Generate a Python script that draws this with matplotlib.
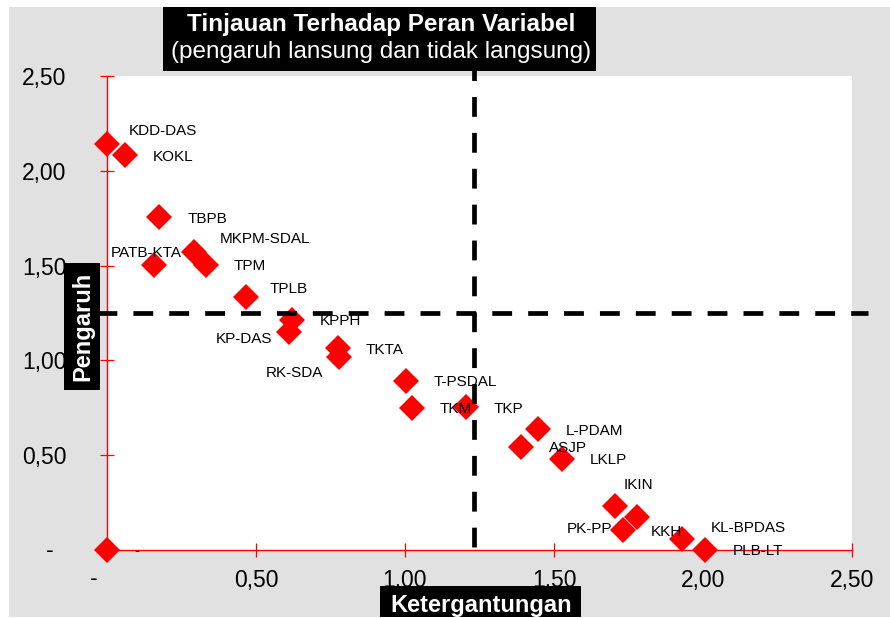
import matplotlib.pyplot as plt
from matplotlib.patches import Rectangle

plt.rcParams['font.family'] = ['Liberation Sans', 'DejaVu Sans']

# variabel: (ketergantungan, pengaruh)
names = ["KDD-DAS", "KOKL", "TBPB", "PATB-KTA", "MKPM-SDAL", "TPM", "TPLB",
         "KPPH", "KP-DAS", "TKTA", "RK-SDA", "T-PSDAL", "TKM", "TKP",
         "L-PDAM", "ASJP", "LKLP", "IKIN", "PK-PP", "KKH", "KL-BPDAS",
         "PLB-LT", "-"]
ketergantungan = [0.000, 0.060, 0.176, 0.157, 0.292, 0.331, 0.465,
                  0.620, 0.612, 0.774, 0.779, 1.004, 1.024, 1.204,
                  1.447, 1.390, 1.526, 1.705, 1.778, 1.733, 1.929,
                  2.007, 0.000]
pengaruh = [2.140, 2.082, 1.755, 1.502, 1.570, 1.503, 1.333,
            1.213, 1.148, 1.064, 1.020, 0.893, 0.751, 0.753,
            0.637, 0.545, 0.480, 0.232, 0.176, 0.105, 0.056,
            0.000, 0.000]

ticks = [0, 0.5, 1.0, 1.5, 2.0, 2.5]
tick_labels = ["-", "0,50", "1,00", "1,50", "2,00", "2,50"]

batas_x = 1.23   # garis putus-putus vertikal
batas_y = 1.25   # garis putus-putus horizontal

title1 = "Tinjauan Terhadap Peran Variabel"
title2 = "(pengaruh lansung dan tidak langsung)"
xlabel = "Ketergantungan"
ylabel = "Pengaruh"

# posisi label yang digeser manual (dx, dy dalam pt, ha)
default_off = (20, 0, 'left')
label_off = {
    "KDD-DAS": (15.8, 10.8, 'left'),
    "PATB-KTA": (20.2, 10.1, 'right'),
    "MKPM-SDAL": (18.7, 10.8, 'left'),
    "TPLB": (17.3, 7.2, 'left'),
    "KP-DAS": (-12, -3.6, 'right'),
    "RK-SDA": (-11.3, -10.8, 'right'),
    "IKIN": (6, 16.3, 'left'),
    "PK-PP": (-18, -7.9, 'right'),
    "KL-BPDAS": (20.9, 9.1, 'left'),
}

W, H = 890, 618
fig = plt.figure(figsize=(W / 100, H / 100), dpi=100)


def fx(px):
    return px / W


def fy(py):
    return 1 - py / H


def box(x0, y0, x1, y1, color, z):
    fig.add_artist(Rectangle((fx(x0), fy(y1)), fx(x1) - fx(x0), fy(y0) - fy(y1),
                             transform=fig.transFigure, facecolor=color,
                             edgecolor='none', zorder=z))


box(9, 7, 890, 617, '#e1e1e1', -5)

ax = fig.add_axes([fx(107), fy(550), fx(852) - fx(107), fy(76) - fy(550)])
ax.set_facecolor('white')
ax.set_xlim(0, 2.5)
ax.set_ylim(0, 2.5)

ax.plot(ketergantungan, pengaruh, 'D', color='red', ms=13.3, mew=0,
        linestyle='none', clip_on=False, zorder=3)

for n, x, y in zip(names, ketergantungan, pengaruh):
    dx, dy, ha = label_off.get(n, default_off)
    ax.annotate(n, (x, y), xytext=(dx, dy - 3.9), textcoords='offset points',
                ha=ha, va='baseline', fontsize=11, color='black',
                annotation_clip=False, zorder=4)

# garis batas kuadran
ax.plot([batas_x, batas_x], [0.015, 2.6], color='black', lw=3.4,
        linestyle=(0, (4.2, 3.4)), clip_on=False, zorder=5)
ax.plot([-0.034, 2.554], [batas_y, batas_y], color='black', lw=3.4,
        linestyle=(0, (4.2, 3.4)), clip_on=False, zorder=5)

for s in ['top', 'right']:
    ax.spines[s].set_visible(False)
for s in ['left', 'bottom']:
    ax.spines[s].set_color('red')
    ax.spines[s].set_linewidth(1.0)

ax.set_xticks(ticks)
ax.set_yticks(ticks)
ax.set_xticklabels([''] + tick_labels[1:])
ax.set_yticklabels([''] + tick_labels[1:])
ax.tick_params(direction='inout', length=10, width=0.9, color='red',
               labelcolor='black', labelsize=16.5)
ax.tick_params(axis='y', pad=24.3)
ax.tick_params(axis='x', pad=8.5)
ax.text(-0.0765, 0, tick_labels[0], transform=ax.get_yaxis_transform(),
        ha='center', va='center', fontsize=16.5)
ax.text(-0.044, -0.061, tick_labels[0], transform=ax.get_xaxis_transform(),
        ha='center', va='center', fontsize=16.5)

# judul dan label sumbu dalam kotak hitam
box(163, 7, 596, 71, 'black', 5)
fig.text(fx(381), fy(31), title1, ha='center', va='baseline', color='white',
         fontsize=17.5, fontweight='bold', zorder=6)
fig.text(fx(381), fy(58), title2, ha='center', va='baseline', color='white',
         fontsize=17.5, zorder=6)

box(64, 263, 100, 390, 'black', 5)
fig.text(fx(83), fy(326.5), ylabel, rotation=90, ha='center', va='center',
         color='white', fontsize=17, fontweight='bold', zorder=6)

box(380, 586, 581, 617, 'black', 5)
fig.text(fx(481), fy(612), xlabel, ha='center', va='baseline', color='white',
         fontsize=17, fontweight='bold', zorder=6)

fig.savefig('out.png', dpi=100)
